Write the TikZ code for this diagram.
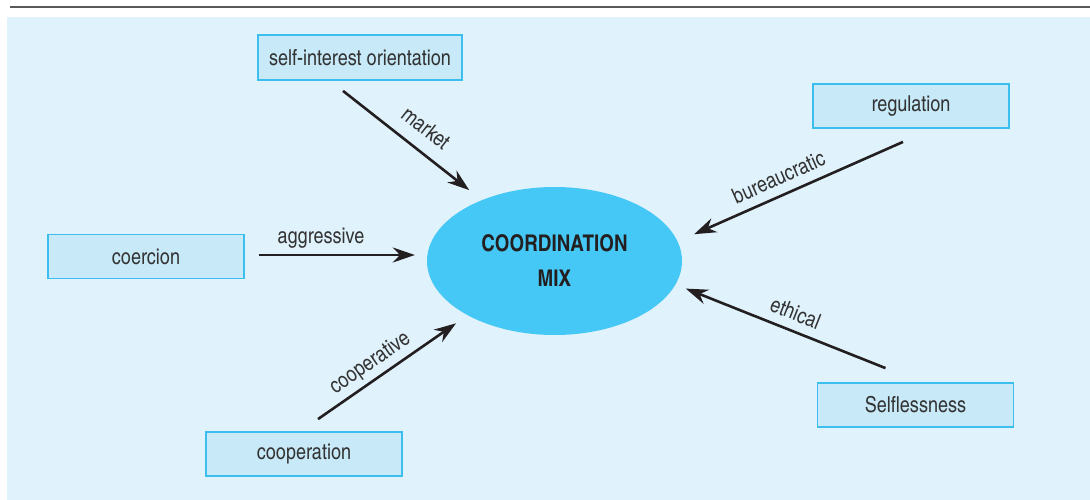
\documentclass[tikz,border=0pt]{standalone}
\usepackage{fontspec}
\setmainfont{texgyreheroscn}[Extension=.otf,UprightFont=*-regular,BoldFont=*-bold]
\usetikzlibrary{arrows.meta,shapes.geometric,calc}

\definecolor{panel}{RGB}{224,242,252}
\definecolor{boxfill}{RGB}{199,233,248}
\definecolor{boxline}{RGB}{60,190,238}
\definecolor{mixfill}{RGB}{69,200,245}
\definecolor{ink}{RGB}{35,31,32}
\definecolor{txt}{RGB}{51,51,51}
\definecolor{rule}{RGB}{90,90,90}

\begin{document}
\begin{tikzpicture}[x=1pt,y=-1pt,
	factor/.style={draw=boxline,fill=boxfill,line width=1.8pt,minimum width=196pt,minimum height=44pt,inner sep=0pt,text=txt,font=\fontsize{22}{26}\selectfont},
	flow/.style={draw=ink,line width=2.6pt,-{Stealth[length=22pt,width=15pt]}},
	lbl/.style={sloped,inner sep=0pt,text depth=0pt,text=txt,font=\fontsize{22}{26}\selectfont}]

\useasboundingbox (0,0) rectangle (1090,500);

%draw panel and top rule
\draw[rule,line width=1.5pt] (10,7)--(1090,7);
\fill[panel] (7,17) rectangle (1090,500);

%centre ellipse
\node[ellipse,fill=mixfill,minimum width=255pt,minimum height=148pt,inner sep=0pt,align=center,text=ink,font=\fontsize{23}{35}\selectfont\bfseries] (mix) at (554.5,261) {COORDINATION\\MIX};

%draw the five boxes
\node[factor,minimum width=204pt,minimum height=45pt] (selfint) at (360,57.5) {self-interest orientation};
\node[factor] (regulation) at (911,106) {regulation};
\node[factor] (coercion) at (146,256.5) {coercion};
\node[factor] (cooperation) at (304,454) {cooperation};
\node[factor] (selfless) at (915.5,405) {Selflessness};

%draw arrows into the mix
\draw[flow,shorten >=16pt] ($(selfint.south)+(-17,10)$) -- node[lbl,pos=.5,above=13pt]{market} (mix.140);
\coordinate (c1) at ($(coercion.east)+(14,-1.5)$);
\draw[flow,shorten >=12pt] (c1) -- node[lbl,pos=.37,above=10pt]{aggressive} (c1 -| mix.west);
\draw[flow,shorten >=14pt] ($(cooperation.north)+(14,-12)$) -- node[lbl,pos=.41,above=9pt]{cooperative} (mix.212.5);
\draw[flow,shorten >=18pt] ($(regulation.south)+(-8,13)$) -- node[lbl,pos=.52,above=9pt]{bureaucratic} (mix.9.7);
\draw[flow,shorten >=11pt] ($(selfless.north)+(-30,-14)$) -- node[lbl,pos=.46,above=9pt]{ethical} (mix.349.2);

\end{tikzpicture}
\end{document}
